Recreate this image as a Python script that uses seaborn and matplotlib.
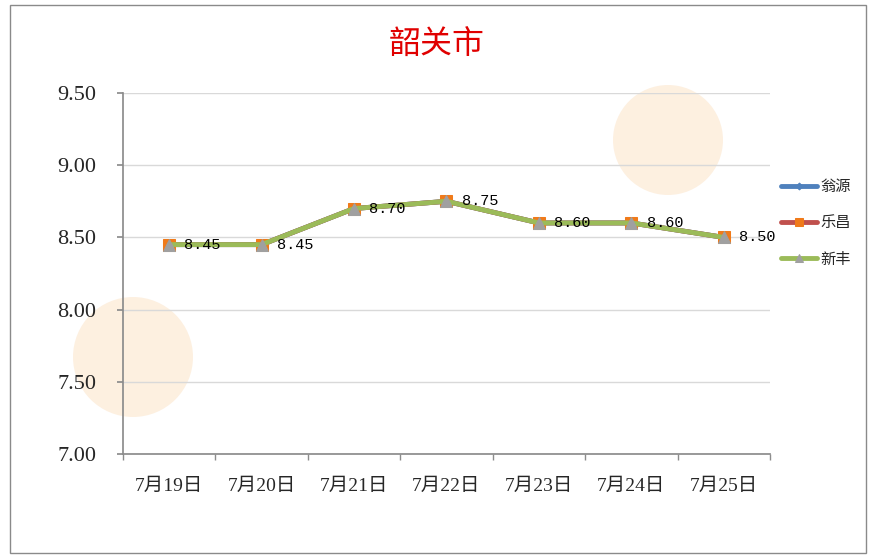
import matplotlib
matplotlib.use("Agg")
import matplotlib.pyplot as plt
from matplotlib.patches import Rectangle, Ellipse
import seaborn as sns
import pandas as pd

dates = ["7月19日", "7月20日", "7月21日", "7月22日", "7月23日", "7月24日", "7月25日"]
wengyuan = [8.45, 8.45, 8.70, 8.75, 8.60, 8.60, 8.50]
lechang = [8.45, 8.45, 8.70, 8.75, 8.60, 8.60, 8.50]
xinfeng = [8.45, 8.45, 8.70, 8.75, 8.60, 8.60, 8.50]
series_names = ["翁源", "乐昌", "新丰"]
y_ticks = [7.00, 7.50, 8.00, 8.50, 9.00, 9.50]

sns.set_theme(style="white")
plt.rcParams['font.family'] = ['Liberation Serif', 'Noto Sans CJK SC', 'DejaVu Sans']

W, H = 875, 559
fig = plt.figure(figsize=(W/100, H/100), dpi=100)
fig.patch.set_facecolor("white")
fig.add_artist(Rectangle((10/W, 1-553/H), 856/W, 548/H, transform=fig.transFigure,
                         fill=False, edgecolor="#8a8a8a", linewidth=1.0))

# faint watermark discs
for (cx, cy, r) in [(668, 140, 55), (133, 357, 60)]:
    fig.add_artist(Ellipse((cx/W, 1-cy/H), 2*r/W, 2*r/H, transform=fig.transFigure,
                           facecolor="#fce6cc", edgecolor="none", alpha=0.6, zorder=0))

ax = fig.add_axes([123/W, 1-454/H, (770-123)/W, (454-93)/H])
ax.set_facecolor("none")

df = pd.DataFrame({"date": dates * 3,
                   "price": wengyuan + lechang + xinfeng,
                   "city": [series_names[0]]*7 + [series_names[1]]*7 + [series_names[2]]*7})

styles = {
    "翁源": dict(color="#4F81BD", marker="D", mfc="#4F81BD", mec="#4F81BD", ms=5),
    "乐昌": dict(color="#C0504D", marker="s", mfc="#F07A1A", mec="#F07A1A", ms=8),
    "新丰": dict(color="#9BBB59", marker="^", mfc="#A0A0A0", mec="#A0A0A0", ms=8),
}
for name in series_names:
    st = styles[name]
    sub = df[df["city"] == name]
    sns.lineplot(data=sub, x="date", y="price", ax=ax, color=st["color"], linewidth=3.5,
                 marker=st["marker"], markersize=st["ms"], markerfacecolor=st["mfc"],
                 markeredgecolor=st["mec"], label=name, sort=False)

for i, v in enumerate(xinfeng):
    ax.annotate(f"{v:.2f}", (i, v), xytext=(11, 0), textcoords="offset points",
                ha="left", va="center", fontsize=11, family=['Liberation Mono'], color="black")

ax.set_xlim(-0.5, 6.5)
ax.set_ylim(7.0, 9.5)
ax.set_yticks(y_ticks)
ax.set_yticklabels([f"{t:.2f}" for t in y_ticks], fontsize=16)
ax.set_xticks(range(len(dates)))
ax.set_xticklabels(dates, fontsize=14, family=['Liberation Serif', 'Noto Sans CJK SC'])
ax.set_xlabel("")
ax.set_ylabel("")
ax.yaxis.grid(True, color="#d9d9d9", linewidth=1)
ax.xaxis.grid(False)
for s in ["top", "right"]:
    ax.spines[s].set_visible(False)
ax.spines["left"].set_color("#8c8c8c")
ax.spines["bottom"].set_color("#8c8c8c")
ax.tick_params(axis="y", which="major", length=4, direction="out", color="#8c8c8c", left=True, pad=15)
ax.tick_params(axis="x", which="major", length=0, pad=17)
ax.set_xticks([i - 0.5 for i in range(8)], minor=True)
ax.tick_params(axis="x", which="minor", length=4, direction="out", color="#8c8c8c", bottom=True)

leg = ax.legend(loc="center left", bbox_to_anchor=(0.995, 0.64), frameon=False,
                handlelength=2.4, labelspacing=1.25, handletextpad=0.2, markerscale=0.7,
                prop={'family': ['Noto Sans CJK SC'], 'size': 11})

fig.text(437/W, 1-45/H, "韶关市", fontsize=23, color="#E00000", ha="center", va="center",
         family=['Noto Sans CJK SC'])

fig.savefig("out.png", dpi=100, facecolor="white")
